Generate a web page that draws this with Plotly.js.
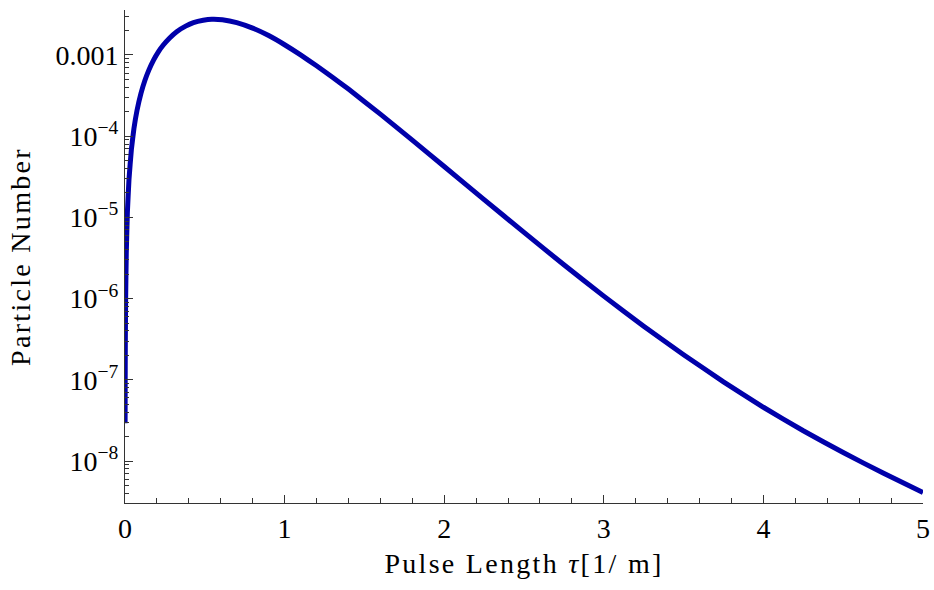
<!DOCTYPE html>
<html>
<head>
<meta charset="utf-8">
<script src="https://cdn.plot.ly/plotly-3.0.1.min.js"></script>
<style>
  html, body { margin: 0; padding: 0; background: #fff; }
  #chart { width: 934px; height: 590px; }
  .xtitle, .ytitle { letter-spacing: 2.3px; }
</style>
</head>
<body>
<div id="chart"></div>
<script>
// Pulse length tau [1/m]
const tau = [0.0006, 0.001, 0.002, 0.004, 0.008, 0.015, 0.025, 0.04, 0.056, 0.075,
             0.1, 0.125, 0.15, 0.178, 0.21, 0.24, 0.28, 0.324, 0.38, 0.429,
             0.49, 0.544, 0.61, 0.7, 0.8, 0.9, 1.0, 1.1, 1.2, 1.3,
             1.4, 1.6, 1.8, 2.0, 2.25, 2.5, 2.75, 3.0, 3.25, 3.5,
             3.75, 4.0, 4.25, 4.5, 4.75, 5.0];
// Particle number
const particleNumber = [2.92e-8, 7.55e-8, 2.74e-7, 9.95e-7, 3.61e-6, 1.156e-5, 2.94e-5, 6.85e-5, 1.242e-4, 2.065e-4,
             3.37e-4, 4.89e-4, 6.56e-4, 8.59e-4, 1.102e-3, 1.327e-3, 1.622e-3, 1.936e-3, 2.265e-3, 2.50e-3,
             2.673e-3, 2.754e-3, 2.716e-3, 2.506e-3, 2.143e-3, 1.734e-3, 1.337e-3, 1.002e-3, 7.36e-4, 5.32e-4,
             3.80e-4, 1.871e-4, 8.95e-5, 4.24e-5, 1.656e-5, 6.53e-6, 2.61e-6, 1.072e-6, 4.57e-7, 2.04e-7,
             9.44e-8, 4.59e-8, 2.36e-8, 1.271e-8, 7.10e-9, 4.09e-9];

const yTickVals = [1e-8, 1e-7, 1e-6, 1e-5, 1e-4, 1e-3];
const yTickText = ['10<sup>\u22128</sup>', '10<sup>\u22127</sup>', '10<sup>\u22126</sup>',
                   '10<sup>\u22125</sup>', '10<sup>\u22124</sup>', '0.001'];
const xTickVals = [0, 1, 2, 3, 4, 5];
const xTickText = ['0', '1', '2', '3', '4', '5'];

// minor log ticks (2..9 within each decade)
const yMinor = [];
for (let e = -9; e <= -3; e++) {
  for (let d = 2; d <= 9; d++) yMinor.push(d * Math.pow(10, e));
}

const font = { family: '"Liberation Serif", "Times New Roman", serif', color: '#000' };
const axisColor = '#333';

const trace = {
  x: tau,
  y: particleNumber,
  type: 'scatter',
  mode: 'lines',
  line: { color: 'rgb(0,0,170)', width: 5, shape: 'spline', smoothing: 0.4 },
  hoverinfo: 'skip'
};

const layout = {
  width: 934,
  height: 590,
  margin: { l: 125, r: 11, t: 10, b: 87 },
  paper_bgcolor: '#fff',
  plot_bgcolor: '#fff',
  showlegend: false,
  font: Object.assign({ size: 28 }, font),
  xaxis: {
    range: [0, 5],
    tickmode: 'array',
    tickvals: xTickVals,
    ticktext: xTickText,
    ticks: 'inside',
    ticklen: 8,
    tickwidth: 1,
    tickcolor: axisColor,
    showline: true,
    linecolor: axisColor,
    linewidth: 1,
    showgrid: false,
    zeroline: false,
    tickfont: Object.assign({ size: 28 }, font),
    minor: { ticks: 'inside', dtick: 0.2, tick0: 0, ticklen: 5, tickcolor: axisColor, showgrid: false },
    title: { text: 'Pulse Length <i>\u03c4</i>[1/ m]', font: Object.assign({ size: 28 }, font), standoff: 10 }
  },
  yaxis: {
    type: 'log',
    range: [-8.517, -2.446],
    tickmode: 'array',
    tickvals: yTickVals,
    ticktext: yTickText,
    ticks: 'inside',
    ticklen: 8,
    tickwidth: 1,
    tickcolor: axisColor,
    showline: true,
    linecolor: axisColor,
    linewidth: 1,
    showgrid: false,
    zeroline: false,
    tickfont: Object.assign({ size: 28 }, font),
    minor: { ticks: 'inside', tickmode: 'array', tickvals: yMinor, ticklen: 4, tickcolor: axisColor, showgrid: false },
    title: { text: 'Particle Number', font: Object.assign({ size: 28 }, font), standoff: 16 }
  }
};

Plotly.newPlot('chart', [trace], layout, { staticPlot: true, displayModeBar: false });
</script>
</body>
</html>
